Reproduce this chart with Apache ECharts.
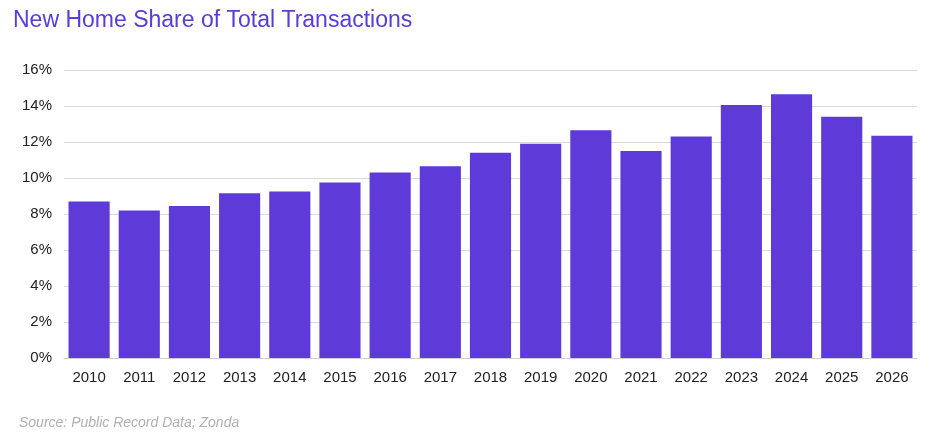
<!DOCTYPE html>
<html>
<head>
<meta charset="utf-8">
<script src="https://cdn.jsdelivr.net/npm/echarts@6/dist/echarts.min.js"></script>
<style>
  html, body { margin: 0; padding: 0; background: #fff; }
  #chart { width: 936px; height: 448px; }
</style>
</head>
<body>
<div id="chart"></div>
<script>
const years = ['2010', '2011', '2012', '2013', '2014', '2015', '2016', '2017', '2018',
    '2019', '2020', '2021', '2022', '2023', '2024', '2025', '2026']
const shares = [8.7, 8.2, 8.45, 9.15, 9.25, 9.75, 10.3, 10.65, 11.4,
    11.9, 12.65, 11.5, 12.3, 14.05, 14.65, 13.4, 12.35]

const chart = echarts.init(document.getElementById('chart'))
chart.setOption({
    animation: false,
    title: [
        {
            text: 'New Home Share of Total Transactions',
            left: 8,
            top: 4,
            textStyle: { fontFamily: 'Liberation Sans', fontSize: 23, fontWeight: 'normal', color: '#5b3bd9' }
        },
        {
            text: 'Source: Public Record Data; Zonda',
            left: 14,
            top: 411,
            textStyle: { fontFamily: 'Liberation Sans', fontSize: 14, fontStyle: 'italic', fontWeight: 'normal', color: '#b0b0b0' }
        }
    ],
    grid: { left: 64, right: 19, top: 70, bottom: 90 },
    xAxis: {
        type: 'category',
        data: years,
        axisTick: { show: false },
        axisLine: { lineStyle: { color: '#d0d0d0' } },
        axisLabel: { color: '#222', fontFamily: 'Liberation Sans', fontSize: 15, margin: 12 }
    },
    yAxis: {
        type: 'value',
        min: 0,
        max: 16,
        interval: 2,
        axisLabel: { formatter: '{value}%', color: '#222', fontFamily: 'Liberation Sans', fontSize: 15, margin: 12 },
        splitLine: { lineStyle: { color: '#d9d9d9' } }
    },
    series: [{
        type: 'bar',
        data: shares,
        barCategoryGap: '18%',
        itemStyle: { color: '#5e3bd9' }
    }]
})
</script>
</body>
</html>
